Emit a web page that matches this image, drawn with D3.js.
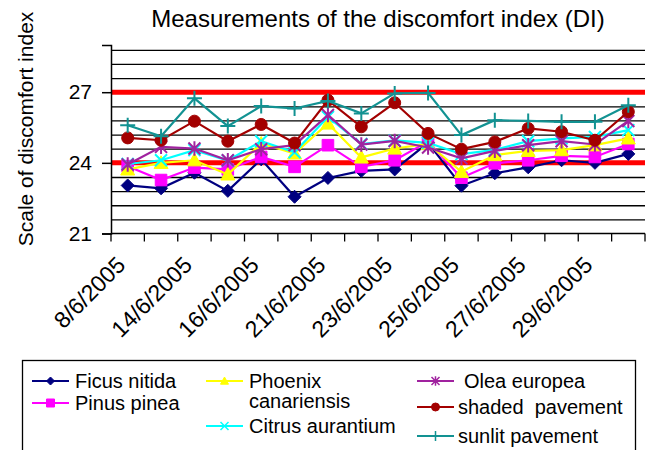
<!DOCTYPE html>
<html><head><meta charset="utf-8">
<script src="https://cdn.jsdelivr.net/npm/d3@7"></script>
<style>
body{margin:0;background:#fff;}
svg{display:block;font-family:"Liberation Sans",Arial,sans-serif;}
</style></head>
<body><svg id="c" width="651" height="450"></svg>
<script>
const categories = ["8/6/2005","13/6/2005","14/6/2005","15/6/2005","16/6/2005","20/6/2005","21/6/2005","22/6/2005","23/6/2005","24/6/2005","25/6/2005","26/6/2005","27/6/2005","28/6/2005","29/6/2005","30/6/2005"];
const ficus   = [23.04,22.92,23.58,22.81,24.15,22.56,23.36,23.66,23.72,24.85,23.03,23.56,23.81,24.11,24.0,24.38];
const pinus   = [23.86,23.27,23.80,23.72,24.25,23.83,24.75,23.83,24.11,24.9,23.37,23.98,24.11,24.3,24.25,24.8];
const phoenix = [23.72,24.0,24.11,23.51,24.82,24.4,25.67,24.23,24.61,24.8,23.62,24.33,24.51,24.54,24.75,25.04];
const citrus  = [23.95,24.11,24.54,24.1,24.92,24.45,25.95,24.8,24.95,24.85,24.37,24.55,24.92,25.04,25.1,25.39];
const olea    = [23.93,24.68,24.61,24.11,24.58,24.75,26.03,24.78,24.93,24.65,24.19,24.51,24.75,24.92,24.78,25.78];
const shaded  = [25.06,24.96,25.77,24.92,25.63,24.84,26.66,25.53,26.55,25.25,24.58,24.89,25.46,25.32,24.96,26.17];
const sunlit  = [25.60,25.13,26.74,25.56,26.41,26.31,26.63,26.10,26.95,26.97,25.18,25.81,25.78,25.74,25.74,26.45];
const seriesNames = ["Ficus nitida","Pinus pinea","Phoenix canariensis","Citrus aurantium","Olea europea","shaded  pavement","sunlit pavement"];
const yMajorTicks = [21,24,27];
const yGridTicks = [21.6,22.2,22.8,23.4,24.0,24.6,25.2,25.8,26.4,27.0,27.6,28.2,28.8];
const thresholds = [24,27];

const seriesData = [ficus,pinus,phoenix,citrus,olea,shaded,sunlit];
const colors = ["#000080","#FF00FF","#FFFF00","#00FFFF","#A0229F","#A30000","#129292"];
const markers = ["diamond","square","triangle","x","star","circle","plus"];

const svg = d3.select("#c");
const L = 111, R = 645, T = 45.1, B = 233.5;
const x = d3.scaleBand().domain(categories).range([L,R]).padding(0);
const y = d3.scaleLinear().domain([21,29]).range([B,T]);
const cx = d => x(d) + x.bandwidth()/2;

// gridlines
svg.append("g").attr("transform",`translate(${L},0)`)
  .call(d3.axisLeft(y).tickValues(yGridTicks).tickSize(-(R-L)).tickFormat(""))
  .call(g=>g.select(".domain").remove())
  .call(g=>g.selectAll("line").attr("stroke","#000").attr("stroke-width",1.3));

// threshold lines
svg.append("g").selectAll("line").data(thresholds).join("line")
  .attr("x1",L).attr("x2",R).attr("y1",d=>y(d)).attr("y2",d=>y(d))
  .attr("stroke","#FF0000").attr("stroke-width",5);

// y axis
svg.append("g").attr("transform",`translate(${L},0)`)
  .call(d3.axisLeft(y).tickValues(yMajorTicks).tickSize(9).tickPadding(10).tickFormat(d3.format("d")))
  .call(g=>g.select(".domain").attr("stroke","#000").attr("stroke-width",1.5))
  .call(g=>g.selectAll("line").attr("stroke","#000").attr("stroke-width",1.5))
  .call(g=>g.selectAll("text").attr("font-size",21).attr("fill","#000").attr("font-family","Liberation Sans, Arial, sans-serif"));

// x axis
const xa = svg.append("g").attr("transform",`translate(0,${B})`);
xa.append("line").attr("x1",L).attr("x2",R).attr("stroke","#000").attr("stroke-width",1.5);
const boundaries = categories.map(c=>x(c)).concat([R]);
xa.selectAll("line.t").data(boundaries).join("line").attr("class","t")
  .attr("x1",d=>d).attr("x2",d=>d).attr("y1",0).attr("y2",8).attr("stroke","#000").attr("stroke-width",1.3);
svg.append("g").selectAll("text").data(categories.filter((d,i)=>i%2===0)).join("text")
  .attr("transform",d=>`translate(${cx(d)-1},${B+33}) rotate(-45)`)
  .attr("text-anchor","end").attr("font-size",23).attr("fill","#000").text(d=>d);

// marker paths
function mpath(type, r){
  switch(type){
    case "diamond": return `M0,${-r}L${r},0L0,${r}L${-r},0Z`;
    case "square": return `M${-r},${-r}H${r}V${r}H${-r}Z`;
    case "triangle": return `M0,${-r}L${r},${r*0.8}L${-r},${r*0.8}Z`;
    case "circle": return d3.symbol(d3.symbolCircle, Math.PI*r*r)();
    case "x": return `M${-r},${-r}L${r},${r}M${-r},${r}L${r},${-r}`;
    case "star": return `M${-r},${-r}L${r},${r}M${-r},${r}L${r},${-r}M0,${-r*1.2}V${r*1.2}`;
    case "plus": return `M${-r},0H${r}M0,${-r}V${r}`;
  }
}
const filled = t => ["diamond","square","triangle","circle"].includes(t);
const msize = {diamond:6.5,square:5.8,triangle:7,circle:6,x:6,star:6,plus:7.5};

const line = d3.line().x((d,i)=>cx(categories[i])).y(d=>y(d));
seriesData.forEach((vals,si)=>{
  const g = svg.append("g");
  g.append("path").datum(vals).attr("d",line).attr("fill","none")
    .attr("stroke",colors[si]).attr("stroke-width",2.2);
  g.selectAll("path.m").data(vals).join("path").attr("class","m")
    .attr("transform",(d,i)=>`translate(${cx(categories[i])},${y(d)})`)
    .attr("d",mpath(markers[si],msize[markers[si]]))
    .attr("fill",filled(markers[si])?colors[si]:"none")
    .attr("stroke",colors[si]).attr("stroke-width",filled(markers[si])?1:2);
});

// title
svg.append("text").attr("x",(L+R)/2).attr("y",27).attr("text-anchor","middle")
  .attr("font-size",24).attr("fill","#000").text("Measurements of the discomfort index (DI)");
// y label
svg.append("text").attr("transform","translate(33,129) rotate(-90)").attr("text-anchor","middle")
  .attr("font-size",21).attr("fill","#000").text("Scale of discomfort index");

// legend
const lg = svg.append("g");
lg.append("rect").attr("x",22.5).attr("y",360.5).attr("width",613).attr("height",110)
  .attr("fill","#fff").attr("stroke","#000").attr("stroke-width",1.3);
const legendPos = [
  {lx:32, ly:381, tx:75, lines:[seriesNames[0]]},
  {lx:32, ly:403, tx:75, lines:[seriesNames[1]]},
  {lx:206, ly:381, tx:249, lines:["Phoenix","canariensis"]},
  {lx:206, ly:426, tx:249, lines:[seriesNames[3]]},
  {lx:417, ly:381, tx:464, lines:[seriesNames[4]]},
  {lx:417, ly:407, tx:458, lines:[seriesNames[5]]},
  {lx:417, ly:436, tx:458, lines:[seriesNames[6]]}
];
legendPos.forEach((p,si)=>{
  const g = lg.append("g");
  g.append("line").attr("x1",p.lx).attr("x2",p.lx+37).attr("y1",p.ly).attr("y2",p.ly)
    .attr("stroke",colors[si]).attr("stroke-width",2);
  const t = markers[si];
  g.append("path").attr("transform",`translate(${p.lx+18.5},${p.ly})`)
    .attr("d",mpath(t, t==="plus"?5:4))
    .attr("fill",filled(t)?colors[si]:"none").attr("stroke",colors[si]).attr("stroke-width",filled(t)?1:1.5);
  p.lines.forEach((s,j)=>{
    g.append("text").attr("x",p.tx).attr("y",p.ly+7+j*20).attr("font-size",20)
      .attr("fill","#000").style("white-space","pre").text(s);
  });
});
</script></body></html>
